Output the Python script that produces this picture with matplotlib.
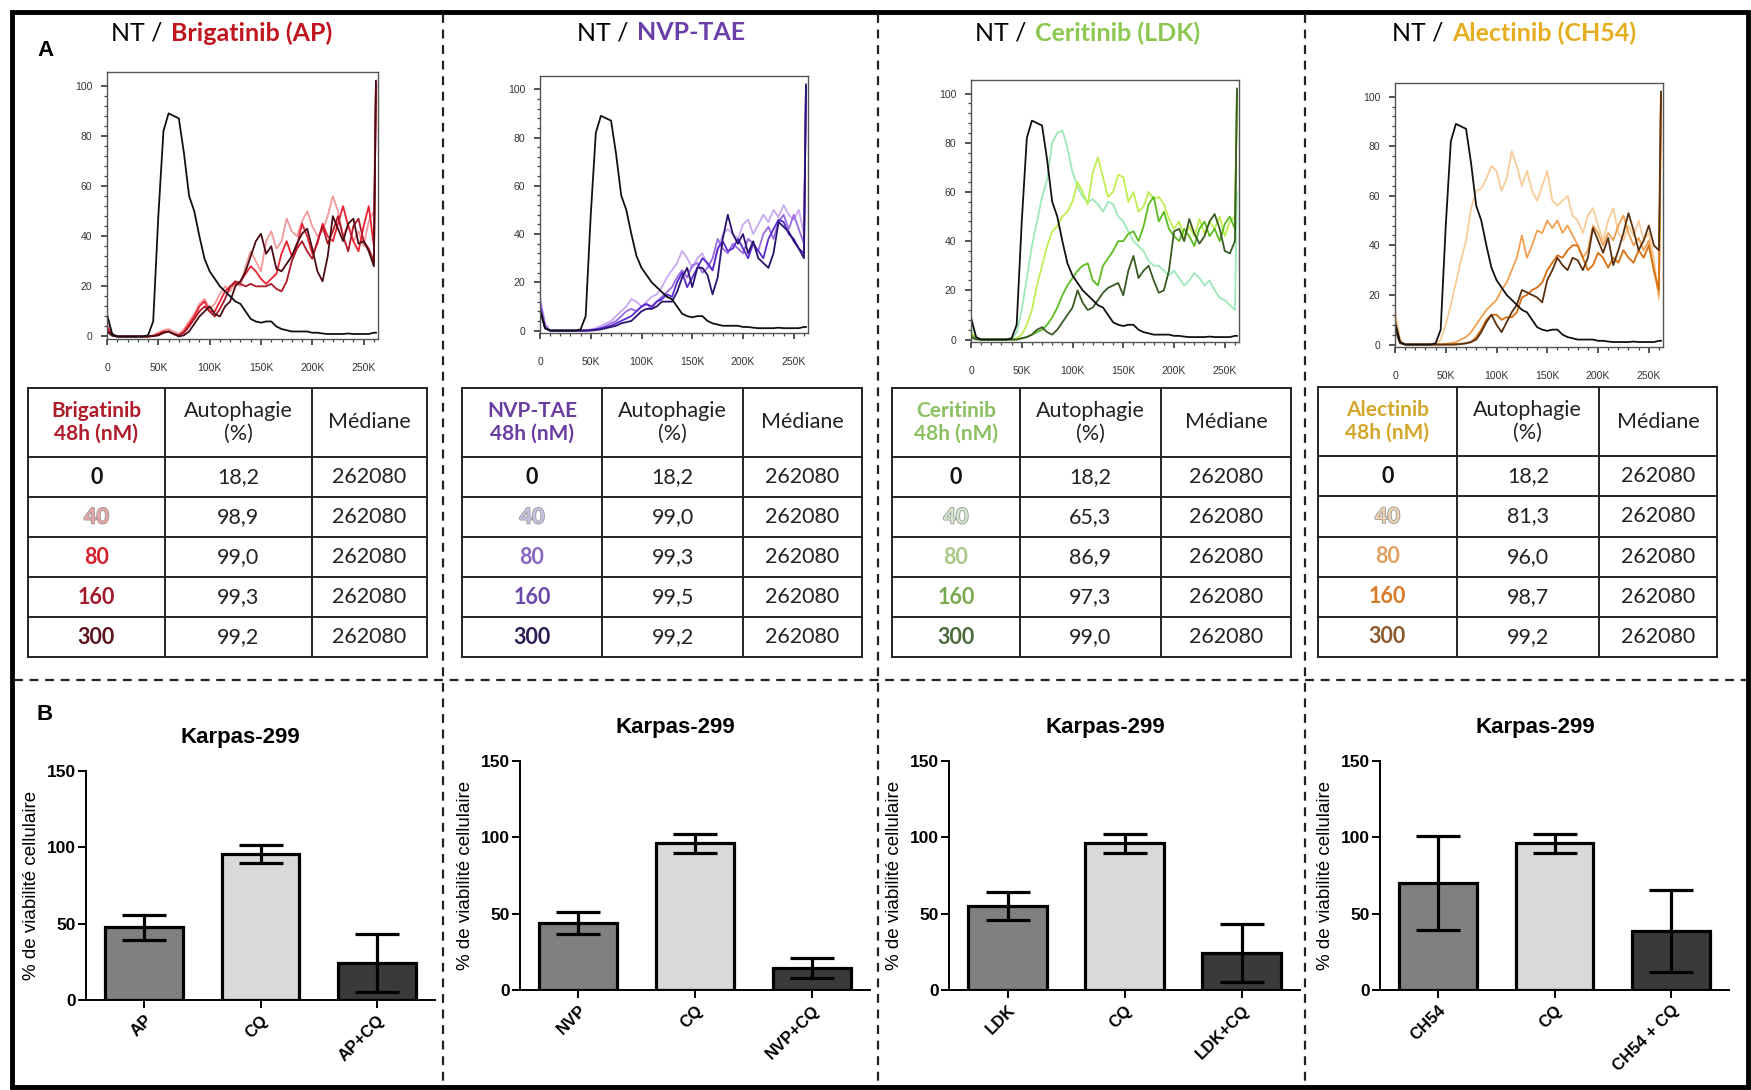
import matplotlib.pyplot as plt
import matplotlib.patheffects as pe
from matplotlib.lines import Line2D
from matplotlib.patches import Rectangle

plt.rcParams['font.family'] = ['Lato', 'DejaVu Sans']
ARIAL = ['Liberation Sans', 'DejaVu Sans']

W, H = 1751, 1090

# ---------------- data ----------------
# fluorescence axis (x1000), last point = saturated channel
fluo_k = list(range(0, 261, 5)) + [262]

nt_curve = [9, 1, 0, 0, 0, 0, 0, 0, 0.5, 6,
            48, 82, 89, 88, 87, 73, 56, 50, 40, 31,
            26, 23, 20, 18, 16, 14, 13, 10, 7, 6,
            5.5, 6, 6, 4, 3, 2.5, 2, 2, 2, 2,
            1.5, 1.5, 1.2, 1, 1, 1, 1, 1.2, 1, 1,
            1, 1, 1.5, 1.5]

brig_40 = [6, 1, 0, 0, 0, 0, 0, 0, 0, 0.5,
           1.5, 2.5, 3, 2, 1, 3, 6, 9, 13, 15,
           11, 13, 17, 20, 18, 22, 20, 28, 34, 30,
           26, 38, 42, 35, 38, 47, 42, 40, 46, 50,
           44, 40, 42, 48, 56, 50, 40, 45, 38, 42,
           36, 46, 50, 100]
brig_80 = [4, 0.5, 0, 0, 0, 0, 0, 0, 0, 0.3,
           1, 2, 2, 1, 0.5, 2, 5, 8, 12, 14,
           10, 10, 14, 18, 20, 21, 22, 25, 28, 26,
           23, 21, 23, 25, 33, 38, 32, 36, 45, 40,
           33, 37, 45, 40, 38, 45, 52, 44, 38, 34,
           44, 52, 36, 100]
brig_160 = [3, 0.5, 0, 0, 0, 0, 0, 0, 0, 0.2,
            0.5, 1.5, 2, 1, 0.5, 1.5, 4, 7, 10, 12,
            10, 8, 11, 15, 20, 22, 21, 20, 21, 20,
            20, 20, 21, 19, 18, 22, 30, 35, 38, 34,
            31, 38, 44, 37, 42, 48, 40, 34, 44, 47,
            38, 35, 30, 101]
brig_300 = [2, 0.3, 0, 0, 0, 0, 0, 0, 0, 0.2,
            0.5, 1.5, 2, 1, 0, 0.5, 2, 5, 8, 10,
            12, 9, 8, 12, 14, 20, 22, 26, 32, 38,
            41, 33, 36, 27, 26, 29, 32, 37, 41, 43,
            35, 26, 22, 32, 48, 43, 38, 45, 47, 37,
            38, 34, 28, 102]

nvp_40 = [14, 3, 0, 0, 0, 0, 0, 0, 0, 0.2,
          0.5, 1, 2, 3, 4, 6, 8, 10, 13, 12,
          10, 12, 14, 15, 18, 22, 25, 28, 33, 30,
          26, 30, 32, 27, 25, 33, 40, 42, 40, 38,
          44, 46, 40, 44, 48, 45, 50, 47, 52, 48,
          46, 50, 40, 100]
nvp_80 = [12, 2, 0, 0, 0, 0, 0, 0, 0, 0,
          0.3, 0.5, 1, 2, 3, 4, 6, 8, 9, 8,
          10, 11, 9, 12, 14, 16, 18, 22, 25, 22,
          27, 28, 24, 26, 30, 38, 34, 32, 36, 34,
          32, 38, 36, 33, 40, 43, 38, 45, 48, 42,
          48, 42, 36, 100]
nvp_160 = [10, 1, 0, 0, 0, 0, 0, 0, 0, 0,
           0.2, 0.5, 1, 1.5, 2, 3, 4, 5, 6, 8,
           10, 11, 10, 12, 13, 15, 14, 20, 24, 18,
           22, 26, 30, 28, 25, 34, 37, 33, 34, 38,
           34, 30, 36, 33, 30, 38, 42, 46, 45, 40,
           38, 34, 32, 101]
nvp_300 = [8, 1, 0, 0, 0, 0, 0, 0, 0, 0,
           0, 0.2, 0.5, 1, 1.5, 2, 3, 3.5, 4, 6,
           8, 9, 9, 10, 12, 12, 12, 16, 22, 26,
           18, 26, 26, 23, 15, 22, 38, 48, 40, 36,
           40, 32, 37, 30, 28, 26, 32, 45, 43, 41,
           37, 34, 30, 102]

cer_40 = [7, 1, 0, 0, 0, 0, 0, 0, 0, 3,
          12, 25, 38, 48, 58, 65, 80, 84, 85, 78,
          68, 62, 58, 56, 57, 55, 52, 56, 55, 50,
          48, 44, 40, 38, 36, 32, 30, 30, 28, 26,
          28, 25, 22, 24, 27, 25, 22, 24, 20, 17,
          16, 14, 12, 60]
cer_80 = [3, 0.5, 0, 0, 0, 0, 0, 0, 0, 0.5,
          2, 6, 12, 22, 30, 38, 44, 46, 50, 52,
          56, 64, 60, 55, 68, 74, 66, 58, 60, 67,
          66, 56, 60, 52, 54, 60, 57, 58, 55, 49,
          45, 48, 42, 46, 42, 49, 43, 48, 45, 50,
          42, 48, 50, 100]
cer_160 = [2, 0.3, 0, 0, 0, 0, 0, 0, 0, 0,
           0.5, 1, 2, 3, 4, 6, 9, 13, 18, 22,
           25, 28, 30, 31, 24, 22, 30, 33, 36, 40,
           40, 43, 44, 40, 46, 55, 58, 48, 52, 45,
           42, 40, 45, 42, 38, 45, 48, 42, 45, 40,
           47, 50, 45, 100]
cer_300 = [1, 0, 0, 0, 0, 0, 0, 0, 0, 0,
           0.5, 1, 2, 4, 5, 3, 2, 4, 7, 10,
           13, 20, 15, 12, 13, 16, 19, 21, 22, 23,
           18, 28, 34, 25, 28, 30, 24, 19, 20, 28,
           44, 45, 40, 49, 43, 39, 42, 48, 51, 45,
           36, 35, 40, 102]

ale_40 = [14, 2, 0, 0, 0, 0, 0, 0, 0, 2,
          8, 16, 25, 34, 42, 55, 62, 63, 67, 72,
          70, 62, 67, 78, 72, 64, 70, 62, 58, 64,
          70, 58, 56, 58, 60, 52, 50, 45, 52, 55,
          48, 42, 50, 55, 45, 42, 48, 44, 50, 42,
          45, 35, 18, 100]
ale_80 = [10, 1, 0, 0, 0, 0, 0, 0, 0, 0,
          0.3, 0.5, 1, 2, 3, 5, 8, 11, 14, 16,
          18, 22, 25, 30, 35, 44, 35, 40, 46, 45,
          50, 47, 50, 45, 48, 44, 40, 35, 38, 48,
          45, 40, 45, 42, 48, 52, 45, 40, 43, 38,
          42, 30, 20, 100]
ale_160 = [8, 1, 0, 0, 0, 0, 0, 0, 0, 0,
           0, 0, 0.2, 0.3, 0.5, 1, 3, 6, 10, 12,
           12, 10, 11, 11, 13, 19, 20, 22, 23, 25,
           30, 33, 36, 35, 38, 40, 40, 35, 30, 32,
           37, 35, 31, 35, 33, 38, 35, 33, 38, 35,
           40, 30, 22, 101]
ale_300 = [6, 0.5, 0, 0, 0, 0, 0, 0, 0, 0,
           0, 0, 0, 0.2, 0.5, 1, 2, 5, 9, 12,
           8, 5, 9, 13, 16, 22, 21, 20, 19, 17,
           26, 30, 35, 32, 30, 35, 34, 30, 35, 47,
           42, 37, 43, 32, 38, 45, 53, 46, 38, 42,
           48, 40, 38, 102]

drug_curves = [[brig_40, brig_80, brig_160, brig_300],
               [nvp_40, nvp_80, nvp_160, nvp_300],
               [cer_40, cer_80, cer_160, cer_300],
               [ale_40, ale_80, ale_160, ale_300]]

drug_titles = ['Brigatinib (AP)', 'NVP-TAE', 'Ceritinib (LDK)', 'Alectinib (CH54)']
drug_names = ['Brigatinib', 'NVP-TAE', 'Ceritinib', 'Alectinib']
doses = ['0', '40', '80', '160', '300']
autophagy = [['18,2', '98,9', '99,0', '99,3', '99,2'],
             ['18,2', '99,0', '99,3', '99,5', '99,2'],
             ['18,2', '65,3', '86,9', '97,3', '99,0'],
             ['18,2', '81,3', '96,0', '98,7', '99,2']]
medians = [['262080'] * 5 for _ in range(4)]

bar_labels = [['AP', 'CQ', 'AP+CQ'], ['NVP', 'CQ', 'NVP+CQ'],
              ['LDK', 'CQ', 'LDK+CQ'], ['CH54', 'CQ', 'CH54 + CQ']]
bar_means = [[47.5, 95.5, 24], [44, 96, 14.5], [55, 96, 24], [70, 96, 38.5]]
bar_errs = [[8.5, 5.8, 19], [7, 6, 6.5], [9, 6, 19], [31, 6, 27]]

# ---------------- styles ----------------
title_colors = ['#c0141e', '#6b3fa8', '#8cc850', '#e6ae1e']
header_colors = ['#b01c2a', '#6a3ea0', '#8cc060', '#d4a72c']
curve_colors = [['#f29a9a', '#ec2232', '#b0182a', '#4a0c14'],
                ['#c8a8f0', '#9a6ae0', '#5a2ad0', '#2a1470'],
                ['#9de8b8', '#c0ee50', '#5cbc20', '#3a5a22'],
                ['#f8cc98', '#f0a050', '#d87010', '#5a3010']]
dose_colors = [['#111111', '#e8a4a4', '#d8202c', '#a01a2c', '#5c1420'],
               ['#111111', '#c9bfe2', '#8a66c2', '#6a48aa', '#2c1a55'],
               ['#111111', '#d4e6cc', '#a8c888', '#78a850', '#4a6a3a'],
               ['#111111', '#ecd0b0', '#e0a060', '#d87a28', '#8a5a2c']]
bar_fill = ['#808080', '#d9d9d9', '#3a3a3a']

hist_boxes = [(107, 72, 378, 339), (540, 76, 808, 333),
              (971, 80, 1239, 342), (1395, 83, 1663, 347)]
title_split = [166, 632, 1030, 1447]
table_boxes = [(28, 388, 427, 657), (462, 388, 862, 657),
               (892, 388, 1291, 657), (1318, 387, 1717, 657)]
table_cols = [(0.343, 0.712), (0.35, 0.703), (0.32, 0.674), (0.348, 0.704)]
bar_boxes = [(86, 771, 435, 1000), (520, 761, 870, 990),
             (949, 761, 1300, 990), (1380, 761, 1729, 990)]
bar_title_pos = [(240, 737), (675, 727), (1105, 727), (1535, 727)]


def px_rect(l, t, r, b):
    return [l / W, 1 - b / H, (r - l) / W, (b - t) / H]


fig = plt.figure(figsize=(W / 100, H / 100), dpi=100)

# ---------------- frame & dividers ----------------
fig.add_artist(Rectangle((12 / W, 1 - 1087 / H), (1748 - 12) / W, (1087 - 12) / H,
                         transform=fig.transFigure, fill=False, lw=3.5, ec='black'))
for xv in [443, 878, 1305]:
    fig.add_artist(Line2D([xv / W, xv / W], [1 - 14 / H, 1 - 1086 / H],
                          transform=fig.transFigure, color='#222', lw=1.6, ls=(0, (4, 3))))
fig.add_artist(Line2D([14 / W, 1746 / W], [1 - 680 / H, 1 - 680 / H],
                      transform=fig.transFigure, color='#222', lw=1.6, ls=(0, (4, 3))))

fig.text(45 / W, 1 - 50 / H, 'A', fontsize=16, fontweight='bold', family=ARIAL,
         ha='center', va='center')
fig.text(45 / W, 1 - 714 / H, 'B', fontsize=16, fontweight='bold', family=ARIAL,
         ha='center', va='center')

# ---------------- histograms ----------------
for i in range(4):
    sx = title_split[i]
    fig.text((sx - 4) / W, 1 - 33 / H, 'NT /', fontsize=18, ha='right', va='center')
    fig.text((sx + 5) / W, 1 - 33 / H, drug_titles[i], fontsize=18, fontweight='bold',
             color=title_colors[i], ha='left', va='center')

    ax = fig.add_axes(px_rect(*hist_boxes[i]))
    for curve, col in zip(drug_curves[i], curve_colors[i]):
        ax.plot(fluo_k, curve, color=col, lw=1.3)
    ax.plot(fluo_k, nt_curve, color='#111111', lw=1.3)
    ax.set_xlim(0, 264)
    ax.set_ylim(-1, 105.5)
    ax.set_xticks([0, 50, 100, 150, 200, 250])
    ax.set_xticklabels(['0', '50K', '100K', '150K', '200K', '250K'])
    ax.set_xticks(range(0, 261, 10), minor=True)
    ax.set_yticks(range(0, 101, 20))
    ax.set_yticks(range(0, 101, 4), minor=True)
    ax.tick_params(axis='x', which='major', length=4.5, width=1.2, pad=13,
                   labelsize=7.5, labelcolor='#333', color='#333')
    ax.tick_params(axis='y', which='major', length=4.5, width=1.2, pad=6,
                   labelsize=7.5, labelcolor='#333', color='#333')
    ax.tick_params(which='minor', length=2.5, width=0.9, color='#444')
    for lab in ax.get_xticklabels() + ax.get_yticklabels():
        lab.set_family(ARIAL)
    for s in ax.spines.values():
        s.set_color('#555')
        s.set_linewidth(1.0)

# ---------------- tables ----------------
hh = 69 / 269
rh = 40 / 269
for i in range(4):
    ax = fig.add_axes(px_rect(*table_boxes[i]))
    ax.set_xlim(0, 1)
    ax.set_ylim(1, 0)
    ax.axis('off')
    c1, c2 = table_cols[i]
    ys = [0, hh] + [hh + rh * k for k in range(1, 6)]
    for yv in ys:
        ax.plot([0, 1], [yv, yv], color='#222', lw=1.4, clip_on=False)
    for xv in [0, c1, c2, 1]:
        ax.plot([xv, xv], [0, 1], color='#222', lw=1.4, clip_on=False)
    mids = [c1 / 2, (c1 + c2) / 2, (c2 + 1) / 2]
    ax.text(mids[0], hh / 2, drug_names[i] + '\n48h (nM)', ha='center', va='center',
            fontsize=15, fontweight='bold', color=header_colors[i], linespacing=1.15)
    ax.text(mids[1], hh / 2, 'Autophagie\n(%)', ha='center', va='center',
            fontsize=15.5, color='#222', linespacing=1.15)
    ax.text(mids[2], hh / 2, 'Médiane', ha='center', va='center',
            fontsize=15.5, color='#222')
    for k in range(5):
        yc = hh + rh * (k + 0.5)
        t = ax.text(mids[0], yc, doses[k], ha='center', va='center', fontsize=15.5,
                    fontweight='bold', color=dose_colors[i][k])
        if k == 1:
            t.set_path_effects([pe.Stroke(linewidth=1.2, foreground='#9a9a9a'), pe.Normal()])
        ax.text(mids[1], yc, autophagy[i][k], ha='center', va='center',
                fontsize=15.5, color='#222')
        ax.text(mids[2], yc, medians[i][k], ha='center', va='center',
                fontsize=15.5, color='#222')

# ---------------- bar charts ----------------
for i in range(4):
    ax = fig.add_axes(px_rect(*bar_boxes[i]))
    pos = range(3)
    ax.bar(pos, bar_means[i], width=0.67, color=bar_fill, edgecolor='black',
           linewidth=2.3, zorder=2)
    ax.errorbar(pos, bar_means[i], yerr=bar_errs[i], fmt='none', ecolor='black',
                elinewidth=2.3, capsize=16, capthick=2.3, zorder=3)
    ax.set_xlim(-0.5, 2.5)
    ax.set_ylim(0, 150)
    ax.spines['top'].set_visible(False)
    ax.spines['right'].set_visible(False)
    ax.spines['left'].set_linewidth(1.4)
    ax.spines['bottom'].set_linewidth(1.4)
    ax.set_yticks([0, 50, 100, 150])
    ax.set_xticks(list(pos))
    ax.set_xticklabels(bar_labels[i], rotation=45, ha='right', va='top',
                       rotation_mode='anchor', fontsize=12, fontweight='bold', family=ARIAL)
    ax.tick_params(axis='both', length=6, width=1.4)
    ax.tick_params(axis='y', pad=1)
    ax.tick_params(axis='x', pad=3)
    for lab in ax.get_yticklabels():
        lab.set_family(ARIAL)
        lab.set_fontweight('bold')
        lab.set_fontsize(12.5)
    ax.set_ylabel('% de viabilité cellulaire', fontsize=13.5, family=ARIAL)
    ax.yaxis.set_label_coords(-0.132, 0.5)
    tx, ty = bar_title_pos[i]
    fig.text(tx / W, 1 - ty / H, 'Karpas-299', fontsize=16, fontweight='bold',
             family=ARIAL, ha='center', va='center')

fig.savefig('out.png', dpi=100)
